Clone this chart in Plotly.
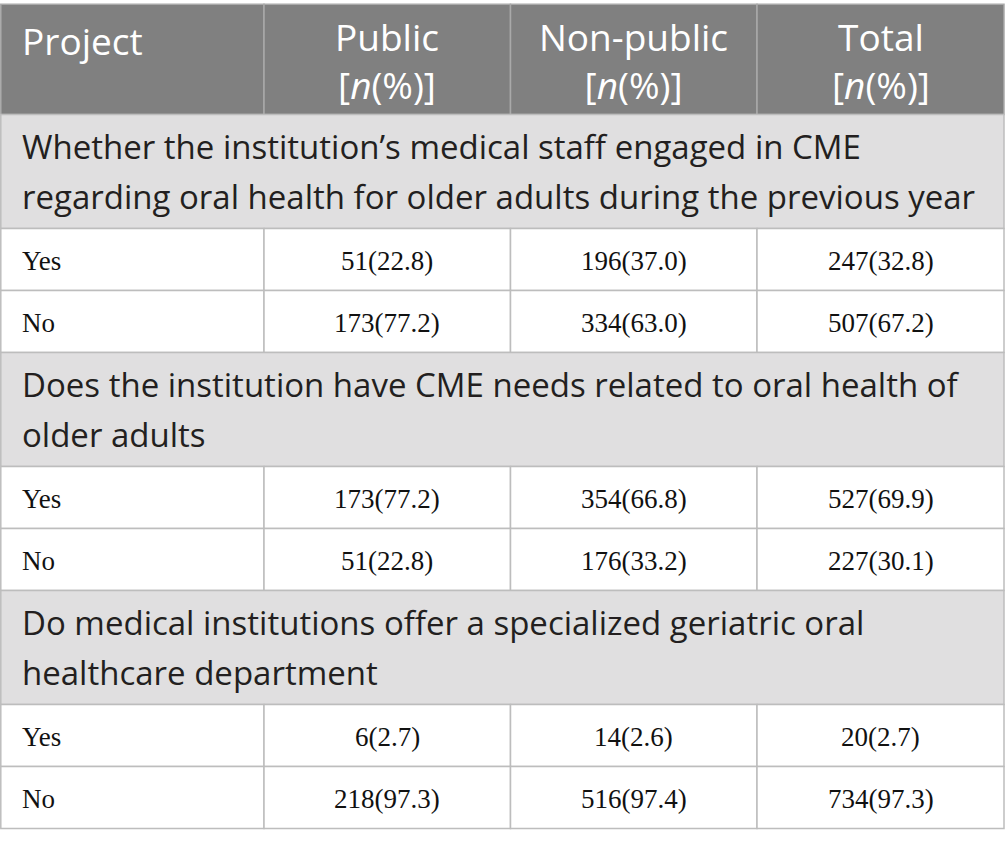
import plotly.graph_objects as go

# Table content
columns = ["Project", "Public", "Non-public", "Total"]
col_unit = "[<i>n</i>(%)]"
sections = [
    ["Whether the institution’s medical staff engaged in CME",
     "regarding oral health for older adults during the previous year"],
    ["Does the institution have CME needs related to oral health of",
     "older adults"],
    ["Do medical institutions offer a specialized geriatric oral",
     "healthcare department"],
]
answers = ["Yes", "No"]
public_n = [[51, 173], [173, 51], [6, 218]]
public_pct = [[22.8, 77.2], [77.2, 22.8], [2.7, 97.3]]
nonpublic_n = [[196, 334], [354, 176], [14, 516]]
nonpublic_pct = [[37.0, 63.0], [66.8, 33.2], [2.6, 97.4]]
total_n = [[247, 507], [527, 227], [20, 734]]
total_pct = [[32.8, 67.2], [69.9, 30.1], [2.7, 97.3]]

# Layout (pixel units on a hidden axis)
W, H = 1005, 847
col_edges = [0.8, 264, 510.5, 757, 1004]
top = 4.3
header_h = 110.2
section_h = 114
row_h = 62
pad = 19

header_bg = "#808080"
section_bg = "#e0dfe0"
border = "#bdbdbd"
sans = "Open Sans"
serif = "Liberation Serif"

fig = go.Figure()
fig.add_trace(go.Scatter(x=[], y=[], hoverinfo="skip", showlegend=False))


def rect(x0, x1, y0, y1, fill, line):
    fig.add_shape(type="rect", xref="x", yref="y", x0=x0, x1=x1, y0=y0, y1=y1,
                  fillcolor=fill, line=dict(color=line, width=1.5), layer="below")


def text(x, y, s, size, color, family, anchor="left"):
    fig.add_annotation(x=x, y=y, xref="x", yref="y", text=s, showarrow=False,
                       xanchor=anchor, yanchor="middle",
                       font=dict(size=size, color=color, family=family))


# Header
for i, name in enumerate(columns):
    x0, x1 = col_edges[i], col_edges[i + 1]
    rect(x0, x1, top, top + header_h, header_bg, "#a9a9a9")
    if i == 0:
        text(x0 + pad, top + 36, name, 37, "white", sans)
    else:
        xc = (x0 + x1) / 2
        text(xc, top + 56, name + "<br>" + col_unit, 37, "white", sans, "center")

y = top + header_h
cols_n = [public_n, nonpublic_n, total_n]
cols_pct = [public_pct, nonpublic_pct, total_pct]
for s, lines in enumerate(sections):
    rect(col_edges[0], col_edges[-1], y, y + section_h, section_bg, border)
    text(col_edges[0] + pad, y + 32, lines[0], 33, "#231f20", sans)
    text(col_edges[0] + pad, y + 82, lines[1], 33, "#231f20", sans)
    y += section_h
    for r, ans in enumerate(answers):
        for i in range(4):
            rect(col_edges[i], col_edges[i + 1], y, y + row_h, "white", border)
        text(col_edges[0] + pad, y + 32, ans, 27, "#111111", serif)
        for c in range(3):
            val = f"{cols_n[c][s][r]}({cols_pct[c][s][r]:.1f})"
            xc = (col_edges[c + 1] + col_edges[c + 2]) / 2
            text(xc, y + 32, val, 27, "#111111", serif, "center")
        y += row_h

fig.update_layout(
    width=W, height=H,
    margin=dict(l=0, r=0, t=0, b=0),
    paper_bgcolor="white", plot_bgcolor="white",
    xaxis=dict(range=[0, W], visible=False, fixedrange=True),
    yaxis=dict(range=[H, 0], visible=False, fixedrange=True),
    showlegend=False,
)

# drop the default page margin so the table sits at the window corner
fig.write_html("out.html", config={"displayModeBar": False},
               post_script="document.body.style.margin='0';")
